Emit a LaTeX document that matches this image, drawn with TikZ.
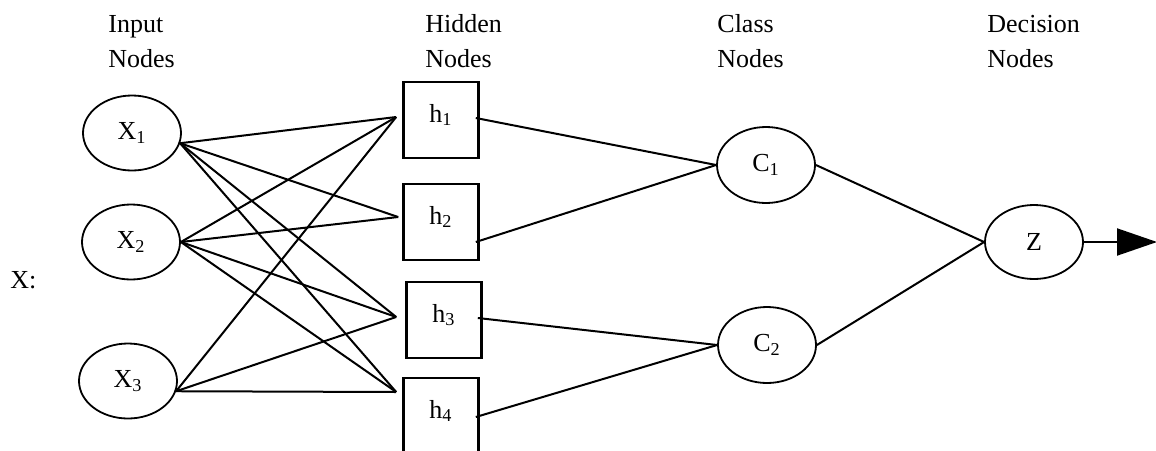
\documentclass[tikz,border=0pt]{standalone}
\usepackage{fontspec}
\setmainfont{Liberation Serif}
\usetikzlibrary{shapes.geometric,arrows.meta}

\begin{document}
\begin{tikzpicture}[x=0.5pt,y=-0.5pt,
  unit/.style={draw,ellipse,line width=0.9pt,minimum width=49pt,minimum height=37.5pt,inner sep=0pt,font=\fontsize{13}{15}\selectfont},
  hid/.style={draw,rectangle,line width=1.3pt,minimum width=37.5pt,minimum height=38pt,inner sep=0pt,text height=9pt,text depth=7pt,font=\fontsize{13}{15}\selectfont},
  link/.style={line width=1pt},
  lab/.style={anchor=base west,inner sep=0pt,font=\fontsize{13}{16}\selectfont}]
\clip (0,0) rectangle (1156,450);
% column titles
\foreach \x/\a in {108/Input,425/Hidden,717/Class,987/Decision}{
  \node[lab] (t\a) at (\x,32) {\a};
  \node[lab] (n\a) at (\x,67) {Nodes};
}
\node[lab] (xlab) at (10,288) {X:};
% input nodes
\node[unit] (x1) at (132,133) {X\textsubscript{1}};
\node[unit] (x2) at (131,242) {X\textsubscript{2}};
\node[unit] (x3) at (128,381) {X\textsubscript{3}};
% hidden nodes
\node[hid] (h1) at (441,120) {h\textsubscript{1}};
\node[hid] (h2) at (441,222) {h\textsubscript{2}};
\node[hid] (h3) at (444,320) {h\textsubscript{3}};
\node[hid] (h4) at (441,416) {h\textsubscript{4}};
% class and decision nodes
\node[unit,minimum height=38pt] (c1) at (766,165) {C\textsubscript{1}};
\node[unit,minimum height=38pt] (c2) at (767,345) {C\textsubscript{2}};
\node[unit,minimum height=37pt] (z) at (1034,242) {Z};
% ports
\coordinate (x1o) at (x1.-12);
\coordinate (x2o) at (x2.east);
\coordinate (x3o) at (x3.-12);
\coordinate (h1i) at ([xshift=-3pt,yshift=1.5pt]h1.west);
\coordinate (h2i) at ([xshift=-2pt,yshift=2.5pt]h2.west);
\coordinate (h3i) at ([xshift=-4.5pt,yshift=1.5pt]h3.west);
\coordinate (h4i) at ([xshift=-3pt,yshift=12pt]h4.west);
\coordinate (h1o) at ([xshift=-2pt,yshift=1pt]h1.east);
\coordinate (h2o) at ([xshift=-2pt,yshift=-10pt]h2.east);
\coordinate (h3o) at ([xshift=-2.5pt,yshift=1pt]h3.east);
\coordinate (h4o) at ([xshift=-2pt,yshift=-0.5pt]h4.east);
\coordinate (zout) at (1157,242);
% links
\foreach \a/\b in {x1/h1,x1/h2,x1/h3,x1/h4,x2/h1,x2/h2,x2/h3,x2/h4,x3/h1,x3/h3,x3/h4}
  \draw[link] (\a o) -- (\b i);
\draw[link] (h1o) -- (c1.west);
\draw[link] (h2o) -- (c1.west);
\draw[link] (h3o) -- (c2.west);
\draw[link] (h4o) -- (c2.west);
\draw[link] (c1.east) -- (z.west);
\draw[link] (c2.east) -- (z.west);
\draw[link,-{Triangle[length=20pt,width=13.5pt]}] (z.east) -- (zout);
\end{tikzpicture}
\end{document}
